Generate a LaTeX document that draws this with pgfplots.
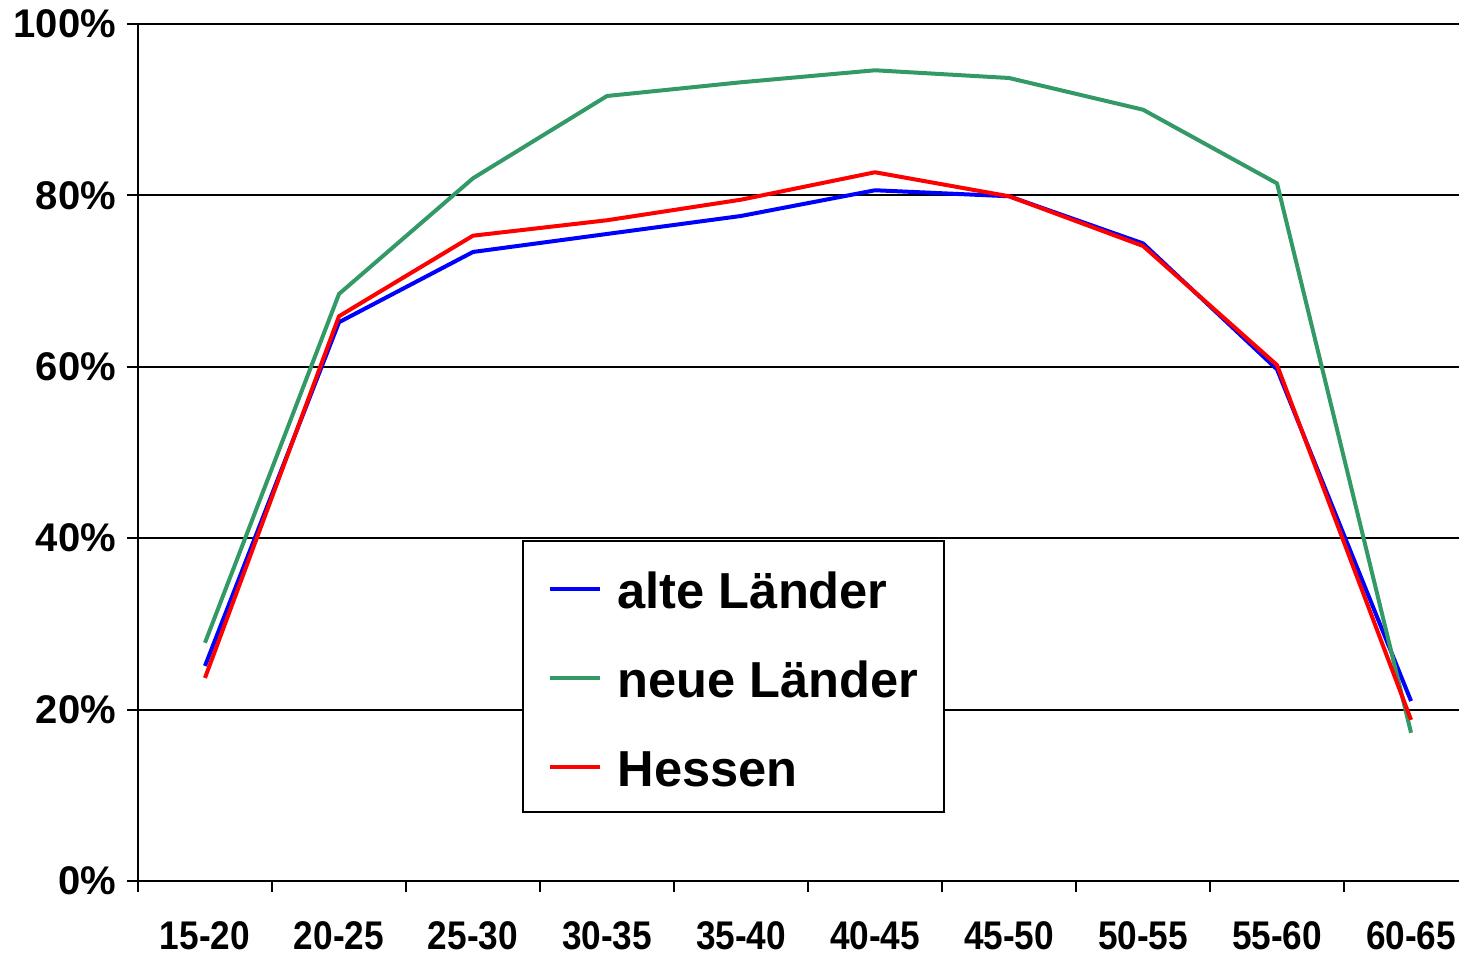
\documentclass[border=0pt]{standalone}
\usepackage{pgfplots}
\pgfplotsset{compat=1.18}
\usepackage{fontspec}
\setmainfont{Liberation Sans}
\newfontfamily\condensed[FakeStretch=0.88]{Liberation Sans}
\definecolor{cblue}{RGB}{0,0,255}
\definecolor{cgreen}{RGB}{51,153,102}
\definecolor{cred}{RGB}{255,0,0}
\begin{document}
\begin{tikzpicture}
\begin{axis}[
 scale only axis, width=660.5pt, height=428.5pt,
 xmin=-0.5, xmax=9.358, ymin=0, ymax=100,
 axis x line*=bottom, axis y line*=left,
 axis line style={line width=1pt, black},
 xtick={0,...,9},
 xticklabels={15-20,20-25,25-30,30-35,35-40,40-45,45-50,50-55,55-60,60-65},
 minor xtick={-0.5,0.5,...,8.5},
 major x tick style={draw=none},
 minor x tick style={draw=black, line width=1pt},
 ytick={0,20,...,100},
 yticklabels={0\%,20\%,40\%,60\%,80\%,100\%},
 y tick style={draw=black, line width=1pt},
 tick align=outside,
 major tick length=5.5pt, minor tick length=5.5pt,
 ymajorgrids, major grid style={black, line width=1pt},
 yticklabel style={font=\fontsize{20}{20}\selectfont\bfseries, xshift=-2pt},
 xticklabel style={font=\condensed\fontsize{20}{20}\selectfont\bfseries, yshift=-11pt},
 legend style={at={(rel axis cs:0.2905,0.398)}, anchor=north west, draw=black, line width=1pt, fill=white,
   font=\fontsize{25.3}{25.3}\selectfont\bfseries, inner xsep=12.5pt, inner ysep=12.5pt,
   row sep=23pt, column sep=8pt, nodes={inner sep=0pt, text height=21.5pt, text depth=0pt}},
 legend cell align=left,
 legend image code/.code={\draw[#1] (0pt,-1pt) -- (25pt,-1pt);},
 every axis plot/.append style={line width=2pt, line join=round, mark=none},
]
\addplot[cblue] coordinates {(0,25.1) (1,65.2) (2,73.4) (3,75.5) (4,77.6) (5,80.6) (6,79.9) (7,74.4) (8,59.7) (9,21.0)};
\addlegendentry{alte Länder}
\addplot[cgreen] coordinates {(0,27.8) (1,68.5) (2,82.0) (3,91.6) (4,93.2) (5,94.6) (6,93.7) (7,90.0) (8,81.4) (9,17.3)};
\addlegendentry{neue Länder}
\addplot[cred] coordinates {(0,23.7) (1,65.9) (2,75.3) (3,77.1) (4,79.5) (5,82.7) (6,79.9) (7,74.1) (8,60.2) (9,18.8)};
\addlegendentry{Hessen}
\end{axis}
\pgfresetboundingbox
\useasboundingbox (-69pt,-37pt) rectangle (660.5pt,440.5pt);
\end{tikzpicture}
\end{document}
